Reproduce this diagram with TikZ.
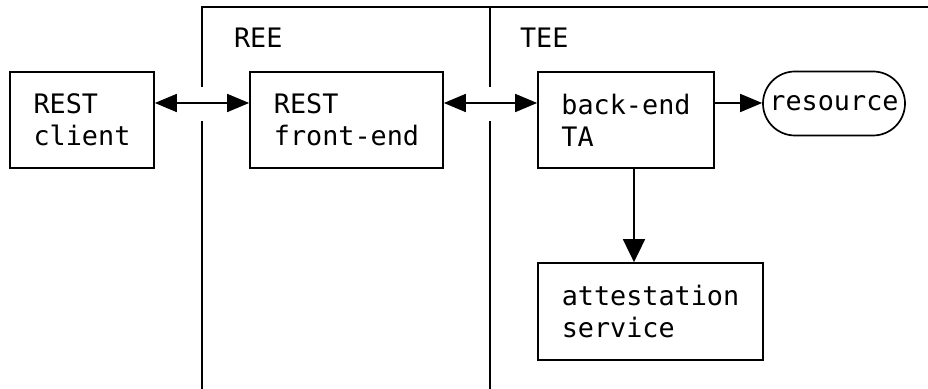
\documentclass[tikz,border=0pt]{standalone}
\usepackage{fontspec}
\setmonofont{DejaVu Sans Mono}
\usetikzlibrary{arrows.meta,shapes.misc}
\begin{document}
\begin{tikzpicture}[x=0.5pt,y=-0.5pt,
  every node/.style={font=\ttfamily\fontsize{13.4}{16}\selectfont},
  box/.style={draw,rectangle,align=left,inner sep=0pt,line width=0.85pt},
  pill/.style={draw,rounded rectangle,inner sep=0pt,line width=0.85pt,minimum width=71pt,minimum height=32pt},
  conn/.style={line width=0.85pt,-{Triangle[length=11pt,width=9pt]}},
  dconn/.style={line width=0.85pt,-{Triangle[length=11.5pt,width=11pt]}},
  biconn/.style={line width=0.85pt,{Triangle[length=11pt,width=9pt]}-{Triangle[length=11pt,width=9pt]}},
  region/.style={line width=0.75pt}]
\useasboundingbox (0,0) rectangle (928,389);
% region boundaries
\draw[region] (202,87) -- (202,7) -- (928,7);
\draw[region] (202,121) -- (202,389);
\draw[region] (490,87) -- (490,7);
\draw[region] (490,121) -- (490,389);
\node[anchor=base west] (ree) at (227,48) {REE};
\node[anchor=base west] (tee) at (513,48) {TEE};
% nodes
\node[box,minimum width=72pt,minimum height=48pt] (rc) at (82,120) {REST\\client};
\node[box,minimum width=96.5pt,minimum height=48pt] (fe) at (346.5,120) {REST\\front-end};
\node[box,minimum width=88pt,minimum height=48pt] (ta) at (626,120) {back-end\\TA};
\node[box,minimum width=112.5pt,minimum height=48.5pt] (att) at (650.5,311.5) {attestation\\service};
\node[pill] (res) at (834,103.5) {resource};
% connectors
\draw[biconn] ([yshift=8.5pt]rc.east) -- ([yshift=8.5pt]fe.west);
\draw[biconn] ([yshift=8.5pt]fe.east) -- ([yshift=8.5pt]ta.west);
\draw[conn] ([yshift=8.5pt]ta.east) -- ([yshift=8.5pt]ta.east -| res.west);
\draw[dconn] ([xshift=4pt]ta.south) -- ([xshift=4pt]ta.south |- att.north);
\end{tikzpicture}
\end{document}
